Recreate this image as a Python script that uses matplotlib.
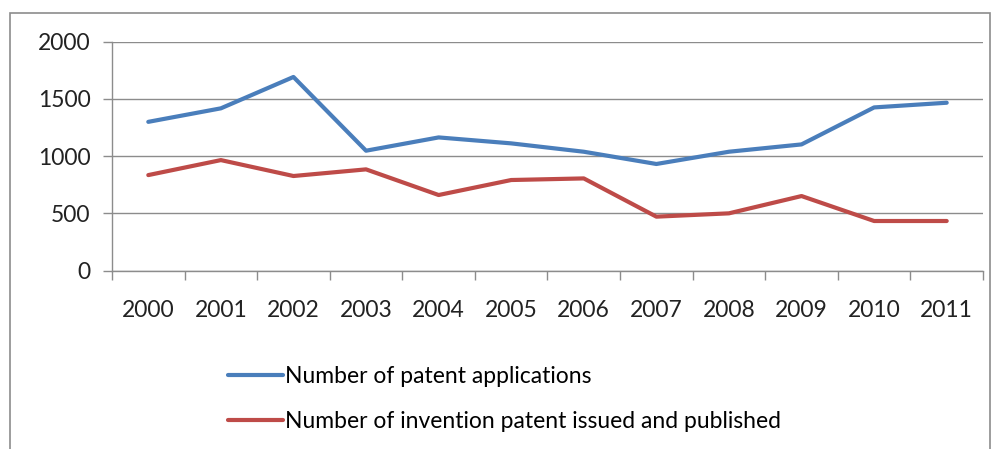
import matplotlib
matplotlib.use("Agg")
import matplotlib.pyplot as plt
from matplotlib.patches import Rectangle
from matplotlib.ticker import FixedLocator

plt.rcParams['font.family'] = ['Lato', 'DejaVu Sans']

years = ["2000", "2001", "2002", "2003", "2004", "2005",
         "2006", "2007", "2008", "2009", "2010", "2011"]
applications = [1300, 1418, 1692, 1048, 1164, 1112, 1039, 932, 1039, 1103, 1426, 1467]
issued = [835, 966, 827, 885, 661, 792, 806, 472, 501, 652, 434, 434]
y_ticks = [0, 500, 1000, 1500, 2000]

W, H = 995, 449
FS = 16.5
fig = plt.figure(figsize=(W / 100, H / 100), dpi=100)
fig.patch.set_facecolor("white")

# outer chart border (open at the bottom edge)
fig.add_artist(Rectangle((10 / W, -0.05), 980 / W, (H - 13) / H + 0.05,
                         transform=fig.transFigure, fill=False,
                         edgecolor="#8c8c8c", linewidth=1.2))

ax = fig.add_axes([112 / W, 1 - 270.7 / H, (983 - 112) / W, (270.7 - 41.7) / H])
x = list(range(len(years)))
blue = "#4a7ebb"
red = "#be4b48"
ax.plot(x, applications, color=blue, linewidth=3, solid_capstyle="round",
        label="Number of patent applications", zorder=3)
ax.plot(x, issued, color=red, linewidth=3, solid_capstyle="round",
        label="Number of invention patent issued and published", zorder=3)

ax.set_xlim(-0.5, len(years) - 0.5)
ax.set_ylim(0, 2000)
ax.set_yticks(y_ticks)
ax.set_xticks(x)
ax.set_xticklabels(years)
ax.xaxis.set_minor_locator(FixedLocator([i - 0.5 for i in range(len(years) + 1)]))
ax.tick_params(axis="x", which="major", length=0, pad=21, labelsize=FS, labelcolor="#222222")
ax.tick_params(axis="x", which="minor", length=6.5, color="#8c8c8c", width=1)
ax.tick_params(axis="y", length=6.5, color="#8c8c8c", width=1, labelsize=FS,
               labelcolor="#222222", pad=9)
ax.grid(axis="y", color="#8c8c8c", linewidth=1)
ax.set_axisbelow(True)
for s in ["top", "right"]:
    ax.spines[s].set_visible(False)
for s in ["left", "bottom"]:
    ax.spines[s].set_color("#8c8c8c")
    ax.spines[s].set_linewidth(1)

fig.legend(loc="upper left", bbox_to_anchor=(228 / W, 1 - 366 / H), frameon=False,
           fontsize=FS, handlelength=2.4, handletextpad=0.1, labelspacing=1.05,
           borderaxespad=0, borderpad=0)

fig.savefig("out.png", dpi=100)
